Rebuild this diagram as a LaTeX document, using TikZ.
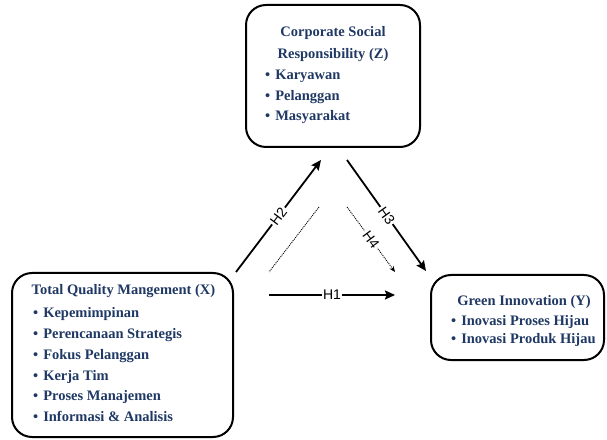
\documentclass[tikz,border=0pt]{standalone}
\usepackage{fontspec}
\setmainfont{Liberation Serif}
\newfontfamily\lblfont{Liberation Sans}
\usetikzlibrary{arrows.meta}
\definecolor{navy}{RGB}{31,56,100}
\begin{document}
\begin{tikzpicture}[x=1pt,y=1pt,
 box/.style={draw=black, line width=2pt, rounded corners=20pt, inner sep=0pt},
 txt/.style={text=navy, font=\bfseries\fontsize{14.5}{20.8}\selectfont, inner sep=0pt},
 conn/.style={line width=1.8pt, -{Stealth[length=10pt,width=9pt,inset=1.5pt]}},
 dconn/.style={line width=0.9pt, dash pattern=on 1pt off 1pt, -{Stealth[length=6pt,width=5pt]}},
 dline/.style={line width=0.9pt, dash pattern=on 1pt off 1pt},
 lbl/.style={font=\lblfont\fontsize{14}{16}\selectfont, fill=white, inner sep=1.5pt}]
\useasboundingbox (0,0) rectangle (607,439);
\fill[white] (0,0) rectangle (607,439);

% boxes
\node[box, minimum width=174, minimum height=142] (Z) at (333,363) {};
\node[box, minimum width=221, minimum height=164] (X) at (122.5,84) {};
\node[box, minimum width=173, minimum height=85] (Y) at (517.5,121.5) {};

% texts
\node[txt, align=center, font=\bfseries\fontsize{14.5}{22}\selectfont] (Zt) at (333,395) {Corporate Social\\Responsibility (Z)};
\node[txt, align=left, anchor=west] (Zb) at (265,342) {\textbullet\hspace{5pt}Karyawan\\\textbullet\hspace{5pt}Pelanggan\\\textbullet\hspace{5pt}Masyarakat};

\node[txt] (Xt) at (123.5,147.5) {Total Quality Mangement (X)};
\node[txt, align=left, anchor=west] (Xb) at (33,74.3) {\textbullet\hspace{5pt}Kepemimpinan\\\textbullet\hspace{5pt}Perencanaan Strategis\\\textbullet\hspace{5pt}Fokus Pelanggan\\\textbullet\hspace{5pt}Kerja Tim\\\textbullet\hspace{5pt}Proses Manajemen\\\textbullet\hspace{5pt}Informasi \& Analisis};

\node[txt] (Yt) at (524,137) {Green Innovation (Y)};
\node[txt, align=left, anchor=west, font=\bfseries\fontsize{14.5}{18.5}\selectfont] (Yb) at (451,108) {\textbullet\hspace{5pt}Inovasi Proses Hijau\\\textbullet\hspace{5pt}Inovasi Produk Hijau};

% connector endpoints
\coordinate (h2s) at (236,167);
\coordinate (h2e) at (321,279);
\coordinate (h3s) at (347,279);
\coordinate (h3e) at (426,168);
\coordinate (h4s) at (347,232);
\coordinate (h4e) at (395,167);
\coordinate (ds) at (319,232);
\coordinate (de) at (269,167);
\coordinate (h1s) at (269,144);
\coordinate (h1e) at (395,144);

\draw[conn] (h2s) -- node[lbl, sloped] (L2) {H2} (h2e);
\draw[conn] (h3s) -- node[lbl, sloped] (L3) {H3} (h3e);
\draw[dconn] (h4s) -- node[lbl, sloped] (L4) {H4} (h4e);
\draw[dline] (ds) -- (de);
\draw[conn] (h1s) -- node[lbl] (L1) {H1} (h1e);
\end{tikzpicture}
\end{document}
